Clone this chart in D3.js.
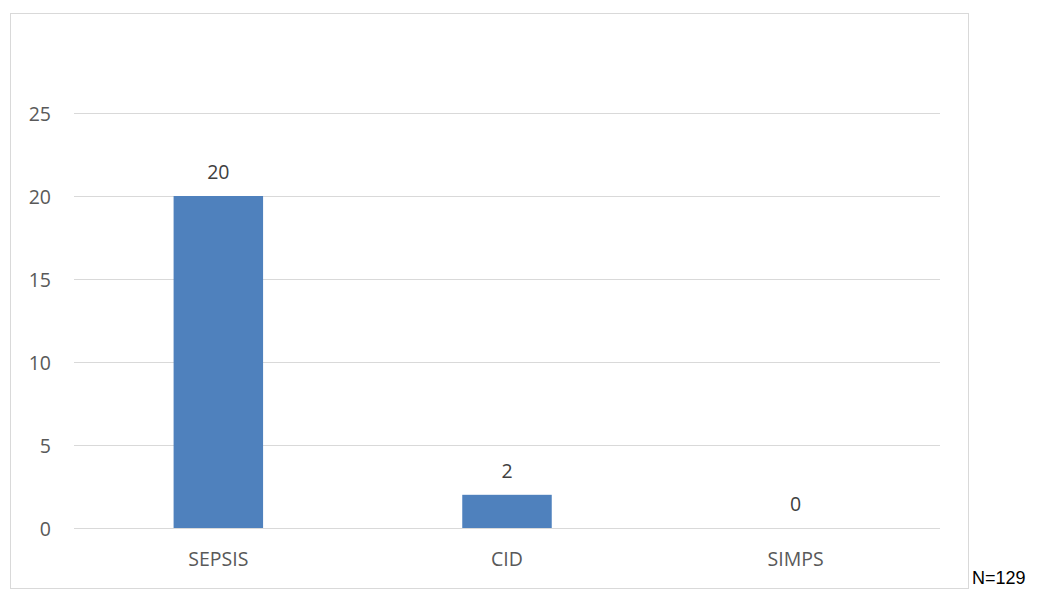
<!DOCTYPE html>
<html>
<head>
<meta charset="utf-8">
<script src="https://cdn.jsdelivr.net/npm/d3@7"></script>
<style>
  html, body { margin: 0; padding: 0; background: #fff; }
  svg { display: block; }
</style>
</head>
<body>
<svg id="chart" width="1041" height="589"></svg>
<script>
// Chart data
const categories = ["SEPSIS", "CID", "SIMPS"];
const values = [20, 2, 0];
const yTicks = [0, 5, 10, 15, 20, 25];
const footnote = "N=129";

const svg = d3.select("#chart");

// Outer chart frame
svg.append("rect")
  .attr("x", 10.5).attr("y", 13.5)
  .attr("width", 958).attr("height", 575)
  .attr("fill", "#fff")
  .attr("stroke", "#d9d9d9")
  .attr("stroke-width", 1);

const plot = { left: 74, right: 940, top: 30, bottom: 528 };

const x = d3.scaleBand()
  .domain(categories)
  .range([plot.left, plot.right])
  .paddingInner(0.69)
  .paddingOuter(0.345);

const y = d3.scaleLinear()
  .domain([0, 30])
  .range([plot.bottom, plot.top]);

const font = "'Open Sans', 'Noto Sans', sans-serif";
const fontSize = 19.5;

// Horizontal gridlines
svg.append("g")
  .selectAll("line")
  .data(yTicks)
  .join("line")
  .attr("x1", plot.left).attr("x2", plot.right)
  .attr("y1", d => Math.round(y(d)) + 0.5)
  .attr("y2", d => Math.round(y(d)) + 0.5)
  .attr("stroke", "#d9d9d9")
  .attr("stroke-width", 1);

// Y-axis tick labels
const yAxis = d3.axisLeft(y).tickValues(yTicks).tickSize(0).tickPadding(0);
const gy = svg.append("g")
  .attr("transform", `translate(51,0)`)
  .call(yAxis);
gy.select(".domain").remove();
gy.selectAll("text")
  .attr("font-family", font)
  .attr("font-size", fontSize)
  .attr("fill", "#595959")
  .attr("text-anchor", "end")
  .attr("dy", "0.36em");

// X-axis category labels
const xAxis = d3.axisBottom(x).tickSize(0).tickPadding(0);
const gx = svg.append("g")
  .attr("transform", `translate(0,${plot.bottom + 38})`)
  .call(xAxis);
gx.select(".domain").remove();
gx.selectAll("text")
  .attr("font-family", font)
  .attr("font-size", fontSize)
  .attr("fill", "#595959")
  .attr("y", 0)
  .attr("dy", "0");

// Bars
svg.append("g")
  .selectAll("rect")
  .data(values)
  .join("rect")
  .attr("x", (d, i) => x(categories[i]))
  .attr("width", x.bandwidth())
  .attr("y", d => y(d))
  .attr("height", d => y(0) - y(d))
  .attr("fill", "#4f81bd");

// Value labels above bars
svg.append("g")
  .selectAll("text")
  .data(values)
  .join("text")
  .attr("x", (d, i) => x(categories[i]) + x.bandwidth() / 2)
  .attr("y", d => y(d) - 17)
  .attr("text-anchor", "middle")
  .attr("font-family", font)
  .attr("font-size", fontSize)
  .attr("fill", "#404040")
  .text(d => d);

// Sample size note
svg.append("text")
  .attr("x", 972)
  .attr("y", 584)
  .attr("font-family", "'Liberation Sans', Arial, sans-serif")
  .attr("font-size", 18)
  .attr("fill", "#000")
  .text(footnote);
</script>
</body>
</html>
